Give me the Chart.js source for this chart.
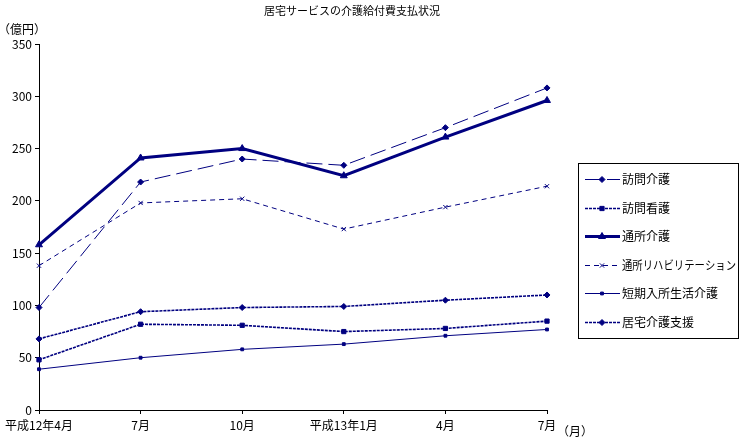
<!DOCTYPE html>
<html><head><meta charset="utf-8">
<script src="https://cdn.jsdelivr.net/npm/chart.js@4.4.0/dist/chart.umd.min.js"></script>
<style>html,body{margin:0;padding:0;background:#fff}#wrap{width:744px;height:440px;position:relative}</style>
</head><body><div id="wrap"><canvas id="c" width="744" height="440"></canvas></div>
<script>
const title = '居宅サービスの介護給付費支払状況';
const yUnit = '（億円）';
const xUnit = '（月）';
const categories = ['平成12年4月','7月','10月','平成13年1月','4月','7月'];
const seriesNames = ['訪問介護','訪問看護','通所介護','通所リハビリテーション','短期入所生活介護','居宅介護支援'];
const houmonKaigo  = [98, 218, 240, 234, 270, 308];
const houmonKango  = [48, 82, 81, 75, 78, 85];
const tsushoKaigo  = [158, 241, 250, 224, 261, 296];
const tsushoRehab  = [138, 198, 202, 173, 194, 214];
const tankiNyusho  = [39, 50, 58, 63, 71, 77];
const kyotakuShien = [68, 94, 98, 99, 105, 110];

const NAVY = '#000080';
const FONT = "'Noto Sans CJK JP', sans-serif";
const styles = [
  {w:1,   dash:[16,6], ps:'rectRot',  r:3},
  {w:1.6, dash:[3,1],  ps:'rect',     r:3},
  {w:3,   dash:[],     ps:'triangle', r:4},
  {w:1,   dash:[5,4],  ps:'crossRot', r:3},
  {w:1,   dash:[],     ps:'rect',     r:2},
  {w:1.6, dash:[3,1],  ps:'rectRot',  r:3}
];
const values = [houmonKaigo, houmonKango, tsushoKaigo, tsushoRehab, tankiNyusho, kyotakuShien];

const datasets = values.map((v,i)=>({
  label: seriesNames[i], data: v,
  borderColor: NAVY, backgroundColor: NAVY,
  borderWidth: styles[i].w, borderDash: styles[i].dash,
  pointStyle: styles[i].ps, pointRadius: styles[i].r, pointBorderWidth: 1,
  pointBorderColor: NAVY, pointBackgroundColor: NAVY,
  tension: 0, fill: false
}));

const deco = {
  id:'deco',
  afterDraw(chart){
    const ctx = chart.ctx;
    ctx.save();
    ctx.fillStyle = '#000';
    ctx.font = '11px ' + FONT;
    ctx.textBaseline = 'middle';
    ctx.textAlign = 'center';
    ctx.fillText(title, 352, 11);
    ctx.font = '12px ' + FONT;
    ctx.textAlign = 'left';
    ctx.fillText(yUnit, -2, 29);
    ctx.fillText(xUnit, 557, 431);
    // legend
    const bx=578, by=163, bw=160, bh=175;
    ctx.strokeStyle='#000'; ctx.lineWidth=1; ctx.setLineDash([]);
    ctx.strokeRect(bx+0.5, by+0.5, bw, bh);
    chart.data.datasets.forEach((ds,i)=>{
      const y = Math.round(179 + i*28.6) + 0.5;
      ctx.save();
      ctx.strokeStyle = NAVY; ctx.lineWidth = ds.borderWidth;
      ctx.setLineDash(ds.borderDash);
      ctx.beginPath(); ctx.moveTo(585, y); ctx.lineTo(620, y); ctx.stroke();
      ctx.setLineDash([]);
      ctx.fillStyle = NAVY; ctx.strokeStyle = NAVY; ctx.lineWidth = 1;
      Chart.helpers.drawPoint(ctx, {pointStyle: ds.pointStyle, radius: ds.pointRadius, borderWidth:1}, 602, y);
      ctx.restore();
      ctx.save();
      ctx.fillStyle = '#000';
      ctx.font = '12px ' + FONT;
      ctx.textAlign='left';
      ctx.textBaseline='middle';
      const w = ctx.measureText(ds.label).width;
      const maxW = 114;
      ctx.translate(622, y);
      if (w > maxW) ctx.scale(maxW / w, 1);
      ctx.fillText(ds.label, 0, 0);
      ctx.restore();
    });
    ctx.restore();
  }
};

new Chart(document.getElementById('c'), {
  type:'line',
  data:{labels: categories, datasets},
  options:{
    responsive:false, animation:false,
    layout:{padding:{top:44, right:197, bottom:0, left:0}},
    plugins:{legend:{display:false}, tooltip:{enabled:false}},
    scales:{
      x:{
        offset:false,
        grid:{drawOnChartArea:false, drawTicks:true, tickLength:4, color:'#000'},
        border:{color:'#000', width:1},
        ticks:{color:'#000', font:{family:FONT, size:12}, padding:4, maxRotation:0, autoSkip:false},
        afterFit(s){ s.height = 30; }
      },
      y:{
        min:0, max:350,
        grid:{drawOnChartArea:false, drawTicks:true, tickLength:4, color:'#000'},
        border:{color:'#000', width:1},
        ticks:{stepSize:50, color:'#000', font:{family:FONT, size:12}, padding:3},
        afterFit(s){ s.width = 39; }
      }
    }
  },
  plugins:[deco]
});
</script></body></html>
